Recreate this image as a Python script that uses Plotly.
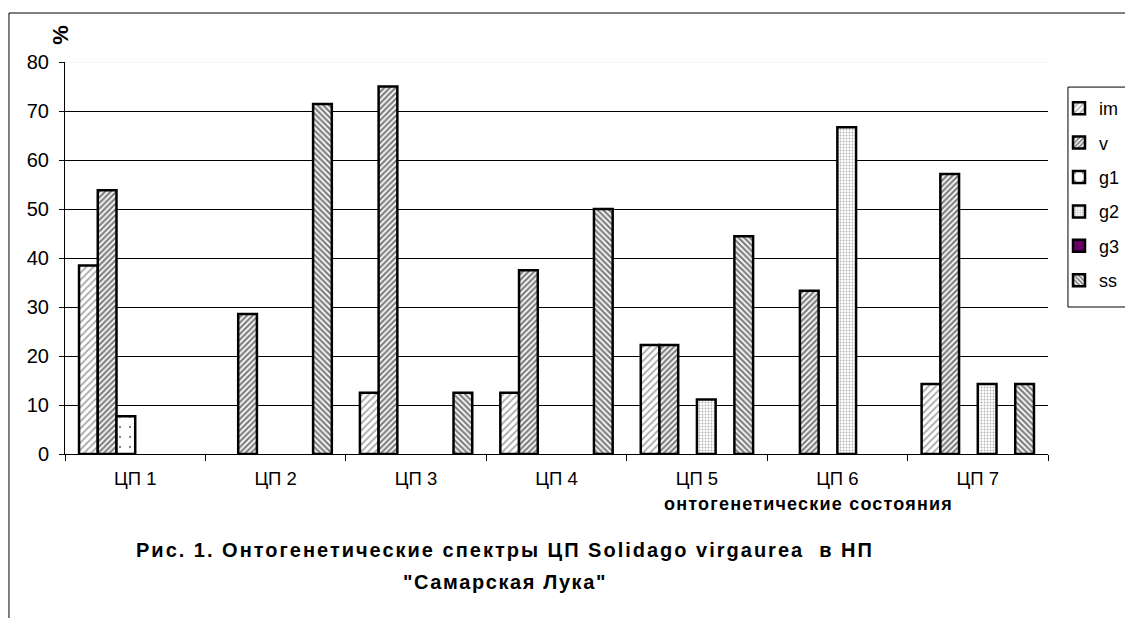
import plotly.graph_objects as go

categories = ["ЦП 1", "ЦП 2", "ЦП 3", "ЦП 4", "ЦП 5", "ЦП 6", "ЦП 7"]
series_names = ["im", "v", "g1", "g2", "g3", "ss"]
im = [38.46, 0, 12.5, 12.5, 22.22, 0, 14.29]
v = [53.85, 28.57, 75.0, 37.5, 22.22, 33.33, 57.14]
g1 = [7.69, 0, 0, 0, 0, 0, 0]
g2 = [0, 0, 0, 0, 11.11, 66.67, 14.29]
g3 = [0, 0, 0, 0, 0, 0, 0]
ss = [0, 71.43, 12.5, 50.0, 44.44, 0, 14.29]
y_ticks = [0, 10, 20, 30, 40, 50, 60, 70, 80]

FONT = "Arial, Liberation Sans, sans-serif"

styles = {
    "im": dict(color="white", pattern=dict(shape="/", fgcolor="#555", bgcolor="white", size=5, solidity=0.35)),
    "v": dict(color="white", pattern=dict(shape="/", fgcolor="black", bgcolor="white", size=4, solidity=0.55)),
    "g1": dict(color="white", pattern=dict(shape=".", fgcolor="black", bgcolor="white", size=10, solidity=0.04)),
    "g2": dict(color="white", pattern=dict(shape=".", fgcolor="#666", bgcolor="white", size=3, solidity=0.3)),
    "g3": dict(color="#660066"),
    "ss": dict(color="white", pattern=dict(shape="\\", fgcolor="black", bgcolor="white", size=4, solidity=0.55)),
}

data = {"im": im, "v": v, "g1": g1, "g2": g2, "g3": g3, "ss": ss}

fig = go.Figure()
for name in series_names:
    st = styles[name]
    marker = dict(color=st["color"], line=dict(color="black", width=2.5))
    if "pattern" in st:
        marker["pattern"] = st["pattern"]
    vals = [val if val != 0 else None for val in data[name]]
    fig.add_trace(go.Bar(x=categories, y=vals, name=name, marker=marker, legendgroup=name))

# the page adds an 8px body margin, so the figure is 8px smaller than the window
fig.update_layout(
    width=1125, height=610,
    paper_bgcolor="white", plot_bgcolor="white",
    margin=dict(l=57, r=85, t=54, b=164, autoexpand=False),
    barmode="group", bargap=0.2, bargroupgap=0,
    font=dict(family=FONT, color="black", size=18),
    showlegend=True,
    legend=dict(
        x=1.0112, y=0.9286, xanchor="left", yanchor="top",
        borderwidth=0, bgcolor="rgba(0,0,0,0)",
        font=dict(size=18, family=FONT), tracegroupgap=8,
        itemwidth=30,
    ),
)

fig.update_xaxes(
    showline=True, linecolor="black", linewidth=1,
    ticks="outside", tickson="boundaries", ticklen=6, tickcolor="black",
    tickfont=dict(size=18.5, family=FONT), showgrid=False, ticklabelstandoff=8,
)
fig.update_yaxes(
    range=[0, 80], tickvals=y_ticks, showline=True, linecolor="black", linewidth=1,
    ticks="outside", ticklen=5, tickcolor="black",
    tickfont=dict(size=20, family=FONT), ticklabelstandoff=6,
    showgrid=True, gridcolor="black", gridwidth=1, zeroline=False,
)

# soften the top gridline
fig.add_shape(type="line", xref="paper", yref="y", x0=0, x1=1, y0=y_ticks[-1], y1=y_ticks[-1],
              line=dict(color="#eeeeee", width=1), layer="above")

# chart area frame
fig.add_shape(type="rect", xref="paper", yref="paper", x0=-0.0570, x1=1.2, y0=-0.5, y1=1.125,
              line=dict(color="black", width=1), fillcolor="rgba(0,0,0,0)", layer="above")
# legend frame
fig.add_shape(type="rect", xref="paper", yref="paper", x0=1.0203, x1=1.2, y0=0.375, y1=0.936,
              line=dict(color="black", width=1), fillcolor="rgba(0,0,0,0)", layer="below")

fig.add_annotation(text="<b>%</b>", xref="paper", yref="paper", x=-0.005, y=1.07,
                   xanchor="center", yanchor="middle",
                   showarrow=False, textangle=-90, font=dict(size=22, family=FONT))
fig.add_annotation(text='<b><span style="letter-spacing:1.2px">онтогенетические состояния</span></b>',
                   xref="paper", yref="paper", xanchor="center", yanchor="middle",
                   x=0.756, y=-0.128, showarrow=False, font=dict(size=18, family=FONT))
fig.add_annotation(text='<b><span style="letter-spacing:2px">Рис. 1. Онтогенетические спектры ЦП Solidago virgaurea&nbsp; в НП</span></b>',
                   xref="paper", yref="paper", x=0.4476, y=-0.245, showarrow=False,
                   xanchor="center", yanchor="middle",
                   font=dict(size=20, family=FONT))
fig.add_annotation(text='<b><span style="letter-spacing:1.6px">"Самарская Лука"</span></b>',
                   xref="paper", yref="paper", x=0.4476, y=-0.327, showarrow=False,
                   xanchor="center", yanchor="middle",
                   font=dict(size=20, family=FONT))

fig.write_html("out.html")
